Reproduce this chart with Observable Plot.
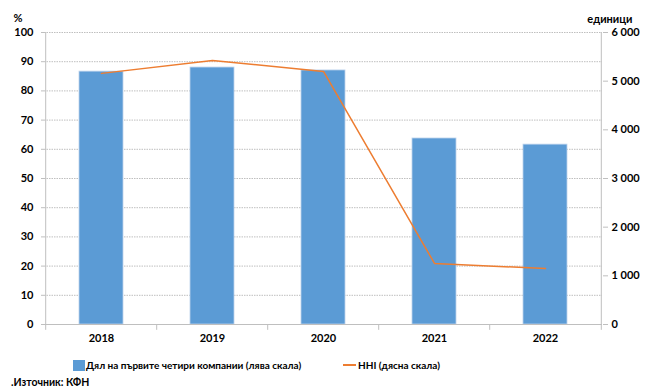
<!DOCTYPE html>
<html><head><meta charset="utf-8">
<script src="https://cdn.jsdelivr.net/npm/d3@7"></script>
<script src="https://cdn.jsdelivr.net/npm/@observablehq/plot@0.6"></script>
<style>
body{margin:0;background:#fff;font-family:Lato,"Liberation Sans",sans-serif;}
#wrap{position:relative;width:649px;height:390px;overflow:hidden;}
#chart{position:absolute;left:0;top:0;}
.leg{position:absolute;top:359px;font-size:10px;font-weight:bold;color:#000;white-space:nowrap;}
.sw{display:inline-block;vertical-align:middle;}
#cap{position:absolute;left:11px;top:376px;font-size:10.5px;font-weight:bold;}
</style></head>
<body><div id="wrap"><div id="chart"></div>
<div class="leg" style="left:73px"><span class="sw" style="width:12px;height:11px;background:#5b9bd5;margin-right:1px;position:relative;top:-1px"></span>Дял на първите четири компании (лява скала)</div>
<div class="leg" style="left:343px"><span class="sw" style="width:13px;height:2px;background:#ed7d31;margin-right:2px;position:relative;top:-1px"></span>HHI (дясна скала)</div>
<div id="cap">.Източник: КФН</div>
</div>
<script>
const years = ["2018","2019","2020","2021","2022"];
const share = [86.6, 88.0, 87.0, 63.7, 61.6];
const hhi = [5160, 5425, 5200, 1255, 1150];
const leftTicks = [0,10,20,30,40,50,60,70,80,90,100];
const rightTicks = [0,1000,2000,3000,4000,5000,6000];
const leftLabel = "%";
const rightLabel = "единици";

const k = 100/6000;
const data = years.map((y,i)=>({year:y, share:share[i], hhi:hhi[i]}));
const fmt = d => d3.format(",")(Math.round(d)).replace(/,/g," ");
const W=649, ML=44, MR=47;
const step = (W-ML-MR)/years.length;

const chart = Plot.plot({
  width: W, height: 350,
  marginTop: 32, marginBottom: 26, marginLeft: ML, marginRight: MR,
  style: {fontFamily:'Lato,"Liberation Sans",sans-serif', fontSize:"11px", fontWeight:"bold", color:"#000", background:"#fff"},
  x: {domain: years, paddingInner: 0.606, paddingOuter: 0.303, axis: null},
  y: {domain: [0,100], axis: null},
  marks: [
    Plot.gridY(leftTicks.filter(d=>d>0), {stroke:"#bfbfbf", strokeOpacity:1, strokeDasharray:"1.5,1"}),
    Plot.barY(data, {x:"year", y:"share", fill:"#5b9bd5", stroke:"#bdd3ec", strokeWidth:0.8}),
    Plot.lineY(data, {x:"year", y:d=>d.hhi*k, stroke:"#ed7d31", strokeWidth:1.5}),
    Plot.ruleX([years[0]], {dx:-step/2, y1:0, y2:100, stroke:"#bfbfbf"}),
    Plot.ruleX([years[years.length-1]], {dx:step/2, y1:0, y2:100, stroke:"#bfbfbf"}),
    Plot.ruleY([0], {stroke:"#bfbfbf"}),
    Plot.ruleX(years, {dx:-step/2, y1:0, y2:-2, stroke:"#bfbfbf"}),
    Plot.ruleX([years[years.length-1]], {dx:step/2, y1:0, y2:-2, stroke:"#bfbfbf"}),
    Plot.axisY(leftTicks, {anchor:"left", tickSize:3, tickPadding:8, stroke:"#bfbfbf", label:null}),
    Plot.axisY(rightTicks.map(d=>d*k), {anchor:"right", tickSize:5, tickPadding:4, stroke:"#bfbfbf", tickFormat:d=>fmt(d/k), label:null}),
    Plot.axisX({tickSize:0, tickPadding:10, label:null}),
    Plot.text([leftLabel], {frameAnchor:"top-left", textAnchor:"start", dx:-31, dy:-18}),
    Plot.text([rightLabel], {frameAnchor:"top-right", textAnchor:"end", dx:30, dy:-17})
  ]
});
document.getElementById("chart").appendChild(chart);
</script></body></html>
